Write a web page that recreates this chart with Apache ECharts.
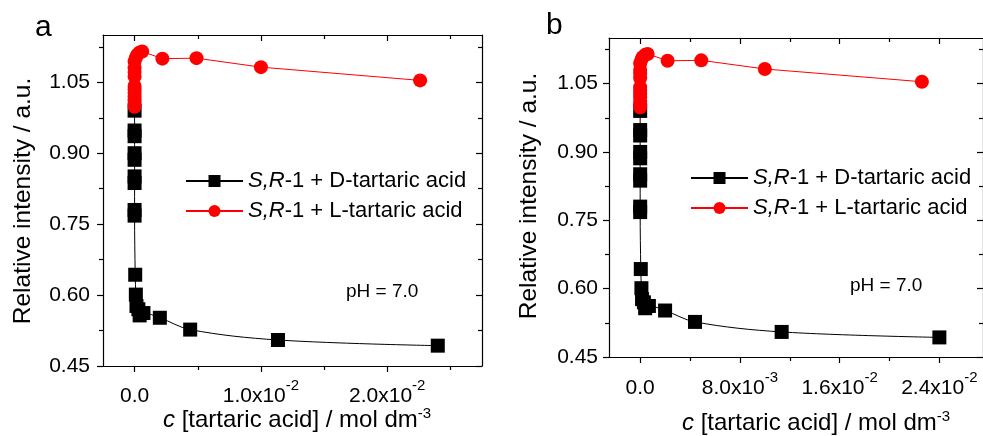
<!DOCTYPE html>
<html><head><meta charset="utf-8">
<script src="https://cdn.jsdelivr.net/npm/echarts@6/dist/echarts.min.js"></script>
<style>html,body{margin:0;padding:0;background:#fff}#c{width:983px;height:436px}</style>
</head><body><div id="c"></div>
<script>
// ---- data (same measurements shown in both panels) ----
const concD = [0, 0, 0, 0, 0, 0, 0, 0, 0, 0.00005, 0.0001, 0.00015, 0.0003, 0.0004, 0.0007, 0.002, 0.0044, 0.01135, 0.024];
const intensD = [0.990, 0.948, 0.936, 0.900, 0.886, 0.851, 0.837, 0.780, 0.768, 0.643, 0.601, 0.577, 0.570, 0.557, 0.562, 0.552, 0.527, 0.505, 0.493];
const concL = [0, 0, 0, 0, 0, 0, 0, 0, 0, 0, 0, 0.0001, 0.0002, 0.0004, 0.0006, 0.0022, 0.0049, 0.0100, 0.0226];
const intensL = [0.998, 1.005, 1.012, 1.020, 1.028, 1.035, 1.042, 1.062, 1.072, 1.080, 1.094, 1.102, 1.108, 1.113, 1.115, 1.100, 1.101, 1.082, 1.054];
const seriesNames = ['S,R-1 + D-tartaric acid', 'S,R-1 + L-tartaric acid'];
const yTicks = [0.45, 0.60, 0.75, 0.90, 1.05];
const yMinorTicks = [0.525, 0.675, 0.825, 0.975, 1.125];
const xTicksA = [0, 0.01, 0.02];
const xTickLabelsA = ['0.0', '1.0x10^-2', '2.0x10^-2'];
const xMinorTicksA = [0.005, 0.015, 0.025];
const xTicksB = [0, 0.008, 0.016, 0.024];
const xTickLabelsB = ['0.0', '8.0x10^-3', '1.6x10^-2', '2.4x10^-2'];
const xMinorTicksB = [0.004, 0.012, 0.020];

const FONT = '"Liberation Sans", Arial, Helvetica, sans-serif';
const X_MIN = -0.0025, X_MAX = 0.0275, Y_MIN = 0.45, Y_MAX = 1.15;

function pairs(xs, ys) { return xs.map((x, i) => [x, ys[i]]); }
function supLabel(s) {
  const p = s.split('^');
  return p.length > 1 ? '{n|' + p[0] + '}{s|' + p[1] + '}' : '{n|' + p[0] + '}';
}
const axisLineStyle = { color: '#000', width: 1.2 };

function makeAxes(gi, xTicks, xLabels, xMinor, xLabelMargin, yLabelMargin) {
  const xs = [], ys = [];
  const base = { type: 'value', gridIndex: gi, splitLine: { show: false } };
  xs.push(Object.assign({}, base, {
    position: 'bottom', min: X_MIN, max: X_MAX,
    axisLine: { show: true, onZero: false, lineStyle: axisLineStyle },
    axisTick: { show: true, inside: false, length: 6, customValues: xTicks, lineStyle: axisLineStyle },
    axisLabel: {
      show: true, customValues: xTicks, margin: xLabelMargin, hideOverlap: false,
      formatter: v => { const i = xTicks.findIndex(t => Math.abs(t - v) < 1e-9); return supLabel(i >= 0 ? xLabels[i] : ''); },
      rich: {
        n: { fontFamily: FONT, fontSize: 21, color: '#000', padding: [8, 0, 0, 0], verticalAlign: 'bottom' },
        s: { fontFamily: FONT, fontSize: 15, color: '#000', verticalAlign: 'top' }
      }
    }
  }));
  xs.push(Object.assign({}, base, {
    position: 'bottom', min: X_MIN, max: X_MAX,
    axisLine: { show: false, onZero: false },
    axisTick: { show: true, inside: false, length: 4, customValues: xMinor, lineStyle: axisLineStyle },
    axisLabel: { show: false }
  }));
  xs.push(Object.assign({}, base, {
    position: 'top', min: X_MIN, max: X_MAX,
    axisLine: { show: true, onZero: false, lineStyle: axisLineStyle },
    axisTick: { show: true, inside: true, length: 6, customValues: xTicks, lineStyle: axisLineStyle },
    axisLabel: { show: false }
  }));
  xs.push(Object.assign({}, base, {
    position: 'top', min: X_MIN, max: X_MAX,
    axisLine: { show: false, onZero: false },
    axisTick: { show: true, inside: true, length: 4, customValues: xMinor, lineStyle: axisLineStyle },
    axisLabel: { show: false }
  }));
  ys.push(Object.assign({}, base, {
    position: 'left', min: Y_MIN, max: Y_MAX,
    axisLine: { show: true, onZero: false, lineStyle: axisLineStyle },
    axisTick: { show: true, inside: false, length: 6, customValues: yTicks, lineStyle: axisLineStyle },
    axisLabel: { show: true, customValues: yTicks, margin: yLabelMargin, formatter: v => v.toFixed(2),
      fontFamily: FONT, fontSize: 21, color: '#000' }
  }));
  ys.push(Object.assign({}, base, {
    position: 'left', min: Y_MIN, max: Y_MAX,
    axisLine: { show: false, onZero: false },
    axisTick: { show: true, inside: false, length: 4, customValues: yMinorTicks, lineStyle: axisLineStyle },
    axisLabel: { show: false }
  }));
  ys.push(Object.assign({}, base, {
    position: 'right', min: Y_MIN, max: Y_MAX,
    axisLine: { show: true, onZero: false, lineStyle: axisLineStyle },
    axisTick: { show: true, inside: true, length: 6, customValues: yTicks, lineStyle: axisLineStyle },
    axisLabel: { show: false }
  }));
  ys.push(Object.assign({}, base, {
    position: 'right', min: Y_MIN, max: Y_MAX,
    axisLine: { show: false, onZero: false },
    axisTick: { show: true, inside: true, length: 4, customValues: yMinorTicks, lineStyle: axisLineStyle },
    axisLabel: { show: false }
  }));
  return { xs, ys };
}

const A = makeAxes(0, xTicksA, xTickLabelsA, xMinorTicksA, 12, 13);
const B = makeAxes(1, xTicksB, xTickLabelsB, xMinorTicksB, 13, 11);
const xAxis = A.xs.concat(B.xs);
const yAxis = A.ys.concat(B.ys);

function seriesFor(panel, xIdx, yIdx) {
  return [
    { name: panel + seriesNames[0], type: 'line', xAxisIndex: xIdx, yAxisIndex: yIdx,
      data: pairs(concD, intensD), symbol: 'rect', symbolSize: 14, smooth: 0.35,
      lineStyle: { color: '#000', width: 1 }, itemStyle: { color: '#000' }, z: 2 },
    { name: panel + seriesNames[1], type: 'line', xAxisIndex: xIdx, yAxisIndex: yIdx,
      data: pairs(concL, intensL), symbol: 'circle', symbolSize: 14,
      lineStyle: { color: '#ff0000', width: 1 }, itemStyle: { color: '#ff0000' }, z: 3 }
  ];
}

const legendRich = {
  i: { fontFamily: FONT, fontSize: 22, fontStyle: 'italic', color: '#000' },
  t: { fontFamily: FONT, fontSize: 22, color: '#000' }
};
function legendFmt(name) { const s = name.slice(1); return '{i|S,R}{t|' + s.slice(3) + '}'; }
function legendFor(panel, left, top) {
  return {
    data: [panel + seriesNames[0], panel + seriesNames[1]],
    orient: 'vertical', left: left, top: top, itemWidth: 57, itemHeight: 15, itemGap: 8,
    padding: 0, selectedMode: false, formatter: legendFmt,
    textStyle: { fontFamily: FONT, fontSize: 22, color: '#000', lineHeight: 22, rich: legendRich }
  };
}

const titleRich = {
  i: { fontFamily: FONT, fontSize: 24, fontStyle: 'italic', fill: '#000' },
  t: { fontFamily: FONT, fontSize: 24, fill: '#000' },
  s: { fontFamily: FONT, fontSize: 15, fill: '#000', padding: [0, 0, 12, 0] }
};
function txt(text, x, y, size) {
  return { type: 'text', x: x, y: y, silent: true,
    style: { text: text, fill: '#000', font: size + 'px ' + FONT, align: 'left', verticalAlign: 'middle' } };
}

const graphic = [
  txt('a', 35, 28, 30),
  txt('b', 546, 26, 30),
  txt('pH = 7.0', 346, 292, 19),
  txt('pH = 7.0', 850, 286, 19),
  { type: 'text', x: 163, y: 420, silent: true,
    style: { text: '{i|c}{t| [tartaric acid] / mol dm}{s|-3}', rich: titleRich, font: '24px ' + FONT, align: 'left', verticalAlign: 'middle' } },
  { type: 'text', x: 682, y: 423, silent: true,
    style: { text: '{i|c}{t| [tartaric acid] / mol dm}{s|-3}', rich: titleRich, font: '24px ' + FONT, align: 'left', verticalAlign: 'middle' } },
  { type: 'text', x: 23, y: 201, rotation: Math.PI / 2, silent: true,
    style: { text: 'Relative intensity / a.u.', fill: '#000', font: '24.5px ' + FONT, align: 'center', verticalAlign: 'middle' } },
  { type: 'text', x: 529, y: 196, rotation: Math.PI / 2, silent: true,
    style: { text: 'Relative intensity / a.u.', fill: '#000', font: '24.5px ' + FONT, align: 'center', verticalAlign: 'middle' } }
];

const chart = echarts.init(document.getElementById('c'), null, { renderer: 'canvas' });
chart.setOption({
  animation: false,
  backgroundColor: '#fff',
  grid: [
    { left: 103, top: 35, width: 379, height: 331 },
    { left: 609, top: 38, width: 375, height: 319 }
  ],
  xAxis: xAxis, yAxis: yAxis,
  legend: [legendFor('a', 185, 170), legendFor('b', 690, 167)],
  series: seriesFor('a', 0, 0).concat(seriesFor('b', 4, 4)),
  graphic: graphic
});
</script>
</body></html>
